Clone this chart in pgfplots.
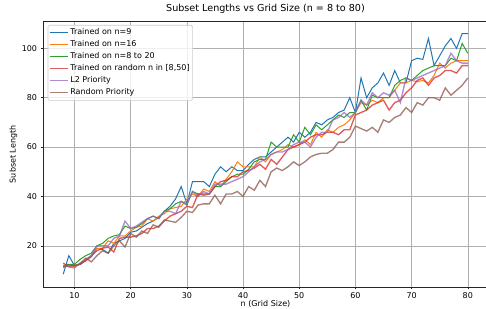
\documentclass[border=0pt]{standalone}
\usepackage{pgfplots}
\usepackage{pgfplotstable}
\pgfplotsset{compat=1.18}
\usepackage{fontspec}
\setmainfont{DejaVu Sans}
\definecolor{tabblue}{HTML}{1F77B4}
\definecolor{taborange}{HTML}{FF7F0E}
\definecolor{tabgreen}{HTML}{2CA02C}
\definecolor{tabred}{HTML}{D62728}
\definecolor{tabpurple}{HTML}{9467BD}
\definecolor{tabbrown}{HTML}{8C564B}
\definecolor{gridgray}{HTML}{B0B0B0}
\definecolor{legendgray}{HTML}{CCCCCC}
\pgfplotstableread{
n blue orange green red purple brown
8 8.5 11 12 13 12 11.5
9 16 12.5 12.5 11.5 11.5 12
10 12 11.5 12.5 12 11 12
11 12.5 13 14.5 12.5 13 12.5
12 14 14 16 14 14.5 15
13 15.5 16 17 16 16 13.5
14 19 19 20 18 20 16
15 18.5 19 21 19 20 18
16 17 22 23 19.5 20 17
17 21 21 24 17.5 23 20
18 22 24 24.5 23 24 22
19 23 24 28 23.5 30 19.5
20 25.5 26 27 23.5 27 25
21 26 27.5 27.5 24 28 23.5
22 27.5 28 29 25 29.5 26
23 29 31 31 27 31 25
24 30 30 32 27 32 28.5
25 31.5 32 31 28 31 27.5
26 34 33 34 30 34 30.5
27 36 35 35 32 34 30
28 39 35.5 37 33 33 29.5
29 44 36 38 34 38 31.5
30 37 39 36.5 36 37 34
31 46 41 42 35.5 42 33.5
32 46 40 41 41 40 36.5
33 46 43 41 40.5 42 37
34 44 42 41 41 41 37
35 49 46 44 44 45 40.5
36 52 44 44 46 45 37
37 50 47 46 46.5 45 41
38 52 50 48 48 46 41
39 50.5 54 49 48 47 42
40 50.5 52 49 50 48 40
41 53 52 51 50.5 50 44
42 55 52 54 51.5 52 42.5
43 56 56 55 53 54 46.5
44 56 54 55 51 55 44
45 58 57 62 55 57 50
46 60 58 60 53 58 51.5
47 62 59 60 56 58 50.5
48 64 61 60 59 59 52
49 62 60 65 60 61 54
50 66 61 62 61 62 52.5
51 64 63 68 62 62 54
52 66 61 65 64 60 56
53 70 66 69 65 64 57
54 69 64 67 65 66 57.5
55 71 67 69 66 66 57.5
56 72 66 71 66 71 59
57 74 68 73 65 72 62
58 75 69 72 67 74 62
59 80 71 74 67 72 64
60 74 74 74 73 74 68.5
61 88 78 79 74 79 67.5
62 80 77 75 75 77 66.5
63 84 79 81 77 82 68
64 86 78 80 78 80 66
65 90 80 80 79 82 71
66 85 80 80 75 81 70
67 91 83 85 78 83 72
68 86 86 87 79 78 73
69 86 86 88 82 88 76
70 95 87 87 84 87 74
71 96 86.5 89 87 88 78
72 95.5 87 91 88 89 77
73 104 86 92 85 90 80
74 93 89 93 88 91 80
75 97 94 93 89 92 79
76 101 92 93 91 93 84
77 104 94 96 91 98 81
78 100 95 95 90 95 83
79 106 95 102 93 94 85
80 106 95 98 93 94 88
}\data
\begin{document}
\begin{tikzpicture}
\begin{axis}[
  name=ax,
  scale only axis,
  width=445pt, height=265.3pt,
  xmin=4.4, xmax=83.6, ymin=3.3, ymax=110.8,
  xtick={10,20,...,80}, ytick={20,40,...,100},
  xtick pos=left, ytick pos=left,
  tick align=outside, major tick length=2.4pt,
  grid=major,
  major grid style={color=gridgray, line width=0.55pt},
  axis line style={line width=0.55pt, color=black!85},
  tick style={line width=0.55pt, color=black!85},
  /pgf/number format/assume math mode=true,
  ticklabel style={font=\fontsize{8}{9.5}\selectfont},
  xticklabel style={yshift=0.5pt},
  title={Subset Lengths vs Grid Size (n = 8 to 80)},
  title style={font=\fontsize{9.6}{11}\selectfont, at={(0.5,1)}, anchor=base, yshift=4.4pt},
  xlabel={n (Grid Size)}, ylabel={Subset Length},
  xlabel style={font=\fontsize{8}{9.5}\selectfont, at={(axis description cs:0.5,0)}, anchor=base, yshift=-19.3pt},
  ylabel style={font=\fontsize{8}{9.5}\selectfont, at={(axis description cs:-0.0663,0.5)}, rotate=0, anchor=center},
  legend cell align=left,
  legend style={at={(0,1)}, anchor=north west, xshift=4.7pt, yshift=-3.3pt,
    draw=legendgray, line width=0.55pt, rounded corners=1.5pt,
    fill=white, fill opacity=0.8, text opacity=1,
    font=\fontsize{8}{9.5}\selectfont,
    inner xsep=1pt, inner ysep=1.5pt, row sep=0pt,
    nodes={text height=6.1pt, text depth=1.8pt, inner ysep=2.05pt, inner xsep=2pt}},
  legend image code/.code={\draw[#1] (0pt,0pt) -- (18pt,0pt);},
]
\addplot[tabblue, line width=1pt] table[x=n, y=blue] {\data};
\addlegendentry{Trained on n=9}
\addplot[taborange, line width=1pt] table[x=n, y=orange] {\data};
\addlegendentry{Trained on n=16}
\addplot[tabgreen, line width=1pt] table[x=n, y=green] {\data};
\addlegendentry{Trained on n=8 to 20}
\addplot[tabred, line width=1.35pt, opacity=0.75] table[x=n, y=red] {\data};
\addlegendentry{Trained on random n in [8,50]}
\addplot[tabpurple, line width=1.35pt, opacity=0.75] table[x=n, y=purple] {\data};
\addlegendentry{L2 Priority}
\addplot[tabbrown, line width=1.35pt, opacity=0.75] table[x=n, y=brown] {\data};
\addlegendentry{Random Priority}
\end{axis}
\pgfresetboundingbox
\useasboundingbox ([shift={(-43pt,-21pt)}]ax.south west) rectangle ([shift={(443pt,287pt)}]ax.south west);
\end{tikzpicture}
\end{document}
